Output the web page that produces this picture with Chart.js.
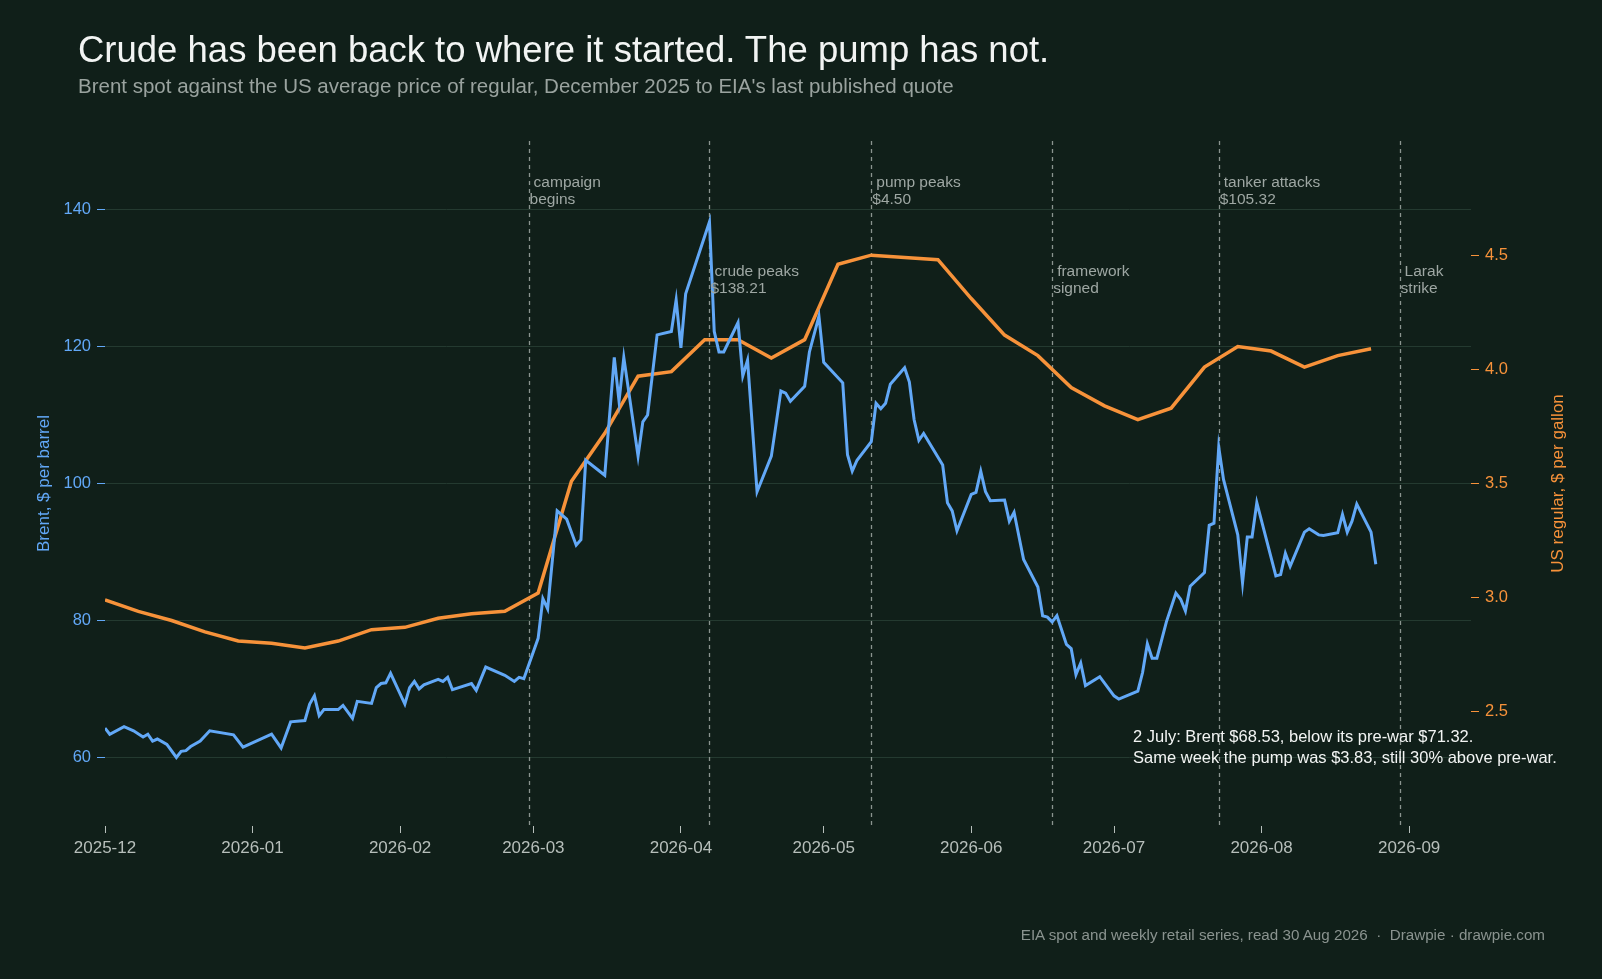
<!DOCTYPE html>
<html><head><meta charset="utf-8">
<script src="https://cdn.jsdelivr.net/npm/chart.js@4"></script>
<style>
html,body{margin:0;padding:0;background:#101f19;width:1602px;height:979px;overflow:hidden;font-family:"Liberation Sans",Arial,sans-serif}
#wrap{position:absolute;left:0;top:0;width:1602px;height:979px}
#title{position:absolute;left:78px;top:29px;color:#f2f4f3;font-size:36.5px;white-space:nowrap}
#sub{position:absolute;left:78px;top:74px;color:#9aa39f;font-size:20.5px;white-space:nowrap}
#foot{position:absolute;right:57px;top:926px;color:#8a938f;font-size:15.2px;white-space:nowrap}
</style></head><body>
<div id="wrap"><canvas id="c" width="1602" height="979"></canvas></div>
<div id="title">Crude has been back to where it started. The pump has not.</div>
<div id="sub">Brent spot against the US average price of regular, December 2025 to EIA's last published quote</div>
<div id="foot">EIA spot and weekly retail series, read 30 Aug 2026 &nbsp;·&nbsp; Drawpie · drawpie.com</div>
<script>
// Day offsets are counted from 2025-12-01
const baseDate = new Date(Date.UTC(2025, 11, 1));
const brentDays = [0,1,4,6,8,9,10,11,13,15,16,17,18,20,22,27,29,35,37,39,42,43,44,45,46,49,50,52,53,56,57,58,59,60,63,64,65,66,67,70,71,72,73,77,78,80,84,86,87,88,91,92,93,95,97,99,100,101,105,107,108,109,112,113,114,116,119,120,121,122,127,128,129,130,133,134,135,137,140,141,142,143,144,147,148,150,151,155,156,157,158,161,162,163,164,165,168,169,170,171,172,176,177,178,179,182,183,184,185,186,189,190,191,193,196,197,198,199,200,202,203,204,205,206,209,212,213,217,218,219,220,221,223,225,226,227,228,231,232,233,234,235,238,239,240,241,242,246,247,248,249,252,253,255,256,259,260,261,262,263,266,267];
const brentValues = [64.3,63.4,64.5,63.9,63.0,63.4,62.4,62.7,61.9,60.0,60.9,61.0,61.6,62.4,63.9,63.3,61.5,63.4,61.4,65.2,65.4,67.8,69.0,66.1,67.0,67.0,67.6,65.7,68.2,67.9,70.2,70.8,70.9,72.3,67.8,70.2,71.1,70.0,70.6,71.4,71.1,71.7,69.9,70.8,69.8,73.2,72.0,71.1,71.7,71.5,77.4,83.2,81.7,96.0,94.8,91.0,91.8,103.4,101.2,118.4,112.0,118.4,104.0,109.0,110.0,121.7,122.2,126.8,119.8,127.7,138.21,122.2,119.2,119.2,123.5,115.7,118.0,98.8,104.0,108.7,113.5,113.2,112.0,114.2,119.2,124.4,117.7,114.7,104.2,101.8,103.4,106.1,111.7,110.9,111.7,114.5,116.9,114.8,109.3,106.3,107.3,102.7,97.2,96.0,93.1,98.4,98.7,101.8,98.8,97.5,97.6,94.5,95.8,88.9,84.9,80.7,80.5,79.8,80.7,76.5,75.9,72.1,73.8,70.5,71.8,69.0,68.53,69.7,72.4,76.6,74.5,74.5,79.8,84.0,83.1,81.4,85.0,87.0,93.9,94.2,105.32,100.6,92.5,85.5,92.2,92.2,97.2,86.5,86.7,89.8,87.9,92.9,93.4,92.5,92.4,92.8,95.5,92.9,94.5,97.0,92.9,88.2];
const gasStartDay = 0, gasStepDays = 7;
const gasValues = [2.99,2.94,2.90,2.85,2.81,2.80,2.78,2.81,2.86,2.87,2.91,2.93,2.94,3.02,3.51,3.72,3.97,3.99,4.13,4.13,4.05,4.13,4.46,4.50,4.49,4.48,4.31,4.15,4.06,3.92,3.84,3.78,3.83,4.01,4.10,4.08,4.01,4.06,4.09];
const monthTickDays = [0,31,62,90,121,151,182,212,243,274];
const brentTicks = [60,80,100,120,140];
const gasTicks = [2.5,3.0,3.5,4.0,4.5];
const eventDays = [89,127,161,199,234,272];
const eventLabels = [["campaign","begins"],["crude peaks","$138.21"],["pump peaks","$4.50"],["framework","signed"],["tanker attacks","$105.32"],["Larak","strike"]];
const eventRow = [0,1,0,1,0,1];
const noteLines = ["2 July: Brent $68.53, below its pre-war $71.32.","Same week the pump was $3.83, still 30% above pre-war."];
const noteAnchorDay = 216, noteAnchorBrent = 62.2;

const BG='#101f19', BLUE='#62a8f7', ORANGE='#f7923a', GREY='#9ea7a3', GRID='#243a30';
const FONT='"Liberation Sans", Arial, sans-serif';
function dayLabel(d){const t=new Date(baseDate.getTime()+d*86400000);return t.getUTCFullYear()+'-'+String(t.getUTCMonth()+1).padStart(2,'0');}

const overlay = {
  id:'overlay',
  beforeDatasetsDraw(chart){
    const {ctx,chartArea:a,scales:{x}}=chart;
    ctx.save();
    ctx.strokeStyle='#8a948f';ctx.lineWidth=1.3;ctx.setLineDash([4,4]);
    eventDays.forEach(d=>{const px=Math.round(x.getPixelForValue(d))+0.5;ctx.beginPath();ctx.moveTo(px,a.top);ctx.lineTo(px,a.bottom);ctx.stroke();});
    ctx.restore();
  },
  afterDatasetsDraw(chart){
    const {ctx,chartArea:a,scales:{x,y}}=chart;
    ctx.save();
    ctx.font='15.5px '+FONT;ctx.fillStyle=GREY;ctx.textBaseline='alphabetic';
    eventDays.forEach((d,i)=>{const px=x.getPixelForValue(d);const top=eventRow[i]?276:187;
      ctx.fillText(eventLabels[i][0],px+5,top);ctx.fillText(eventLabels[i][1],px+1,top+17);});
    ctx.font='16.5px '+FONT;ctx.fillStyle='#f2f4f3';
    const nx=x.getPixelForValue(noteAnchorDay), ny=y.getPixelForValue(noteAnchorBrent);
    ctx.fillText(noteLines[0],nx,ny);ctx.fillText(noteLines[1],nx,ny+21);
    // right axis title, reading bottom to top
    ctx.font='17px '+FONT;ctx.fillStyle=ORANGE;ctx.textAlign='center';ctx.textBaseline='middle';
    ctx.translate(1558,(a.top+a.bottom)/2);ctx.rotate(-Math.PI/2);
    ctx.fillText('US regular, $ per gallon',0,0);
    ctx.restore();
  }
};

Chart.defaults.font.family=FONT;
new Chart(document.getElementById('c'),{
  type:'line',
  data:{datasets:[
    {label:'Brent',data:brentDays.map((d,i)=>({x:d,y:brentValues[i]})),yAxisID:'y',borderColor:BLUE,borderWidth:3,pointRadius:0,tension:0},
    {label:'Gas',data:gasValues.map((v,i)=>({x:gasStartDay+i*gasStepDays,y:v})),yAxisID:'y1',borderColor:ORANGE,borderWidth:3.5,pointRadius:0,tension:0}
  ]},
  options:{
    responsive:false,animation:false,
    layout:{padding:{left:30,right:30,top:141,bottom:0}},
    plugins:{legend:{display:false},tooltip:{enabled:false}},
    scales:{
      x:{type:'linear',min:0,max:287,
        afterBuildTicks(s){s.ticks=monthTickDays.map(v=>({value:v}));},
        afterFit(s){s.height=153;},
        ticks:{color:'#b7bfbb',font:{size:17},padding:5,callback:v=>dayLabel(v),maxRotation:0},
        grid:{drawOnChartArea:false,drawTicks:true,tickLength:7,color:'#b7bfbb'},border:{display:false}},
      y:{position:'left',min:50,max:150,
        afterBuildTicks(s){s.ticks=brentTicks.map(v=>({value:v}));},
        afterFit(s){s.width=75;},
        ticks:{color:BLUE,font:{size:16.5},padding:6},
        grid:{color:GRID,lineWidth:1,tickLength:8,tickColor:BLUE},border:{display:false},
        title:{display:true,text:'Brent, $ per barrel',color:BLUE,font:{size:17}}},
      y1:{position:'right',min:2.0,max:5.0,
        afterBuildTicks(s){s.ticks=gasTicks.map(v=>({value:v}));},
        afterFit(s){s.width=101;},
        ticks:{color:ORANGE,font:{size:16.5},padding:6,callback:v=>v.toFixed(1)},
        grid:{drawOnChartArea:false,tickLength:8,color:ORANGE},border:{display:false},
        title:{display:false}}
    }
  },
  plugins:[overlay]
});
</script></body></html>
